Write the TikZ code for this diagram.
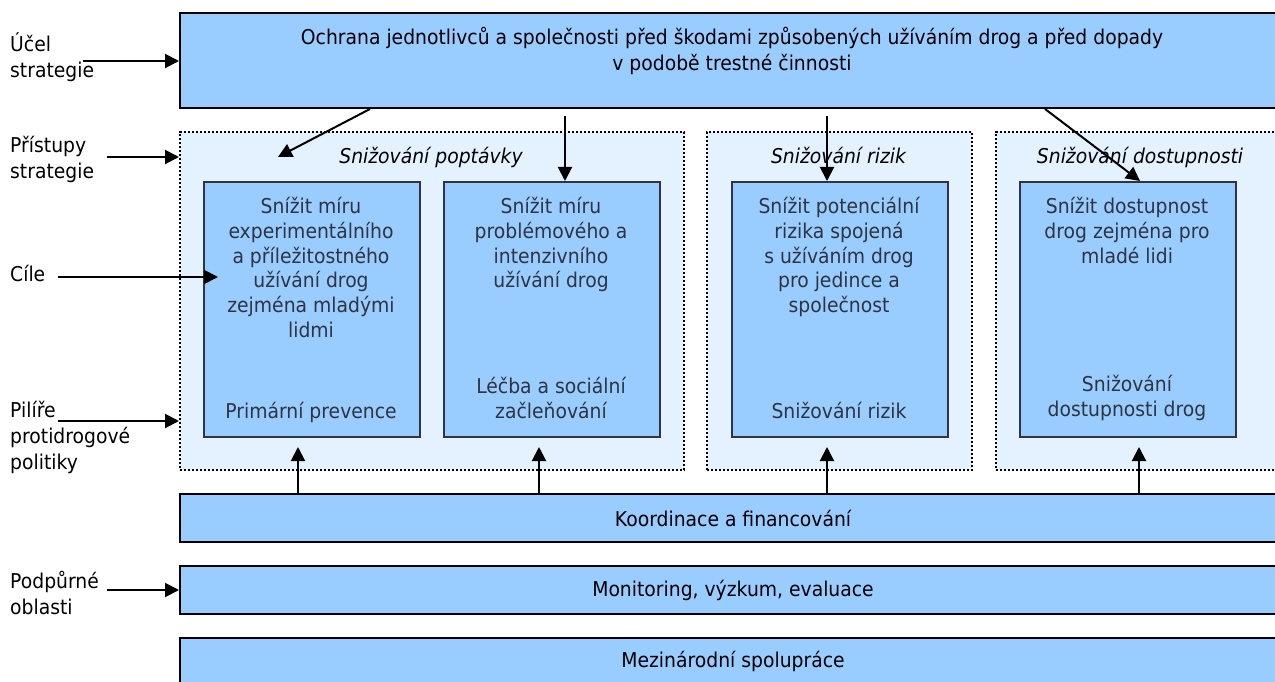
\documentclass[tikz,border=0pt]{standalone}
\usepackage{fontspec}
\setmainfont{DejaVu Sans}[FakeStretch=0.92]
\usetikzlibrary{arrows.meta}
\definecolor{boxblue}{HTML}{99CCFF}
\definecolor{paleblue}{HTML}{E4F1FF}
\definecolor{inktext}{HTML}{2E3440}
\begin{document}
\begin{tikzpicture}[x=1pt,y=-1pt,
  bigbox/.style={draw=black, line width=2pt, fill=boxblue, anchor=north west, inner sep=0pt},
  group/.style={draw=black, line width=2.2pt, dash pattern=on 2.2pt off 1.8pt, fill=paleblue, anchor=north west, inner sep=0pt},
  goal/.style={draw=inktext, line width=1.7pt, fill=boxblue, anchor=north west, inner sep=0pt,
               minimum width=216pt, minimum height=255pt},
  txt/.style={font=\fontsize{20.4}{24.8}\selectfont, align=center, inner sep=0pt},
  goaltxt/.style={txt, text=inktext},
  sidetxt/.style={font=\fontsize{20.4}{26}\selectfont, align=left, inner sep=0pt, anchor=north west},
  arr/.style={-{Triangle[length=14pt,width=14pt]}, line width=2pt},
]
\useasboundingbox (0,0) rectangle (1275,682);
\clip (0,0) rectangle (1275,682);

% strategy purpose
\node[bigbox, minimum width=1106pt, minimum height=95pt] (top) at (179,12) {};
\node[txt, font=\fontsize{20.4}{26}\selectfont, anchor=north] (toptxt) at (732,25.8)
  {\strut Ochrana jednotlivců a společnosti před škodami způsobených užíváním drog a před dopady\\
   v podobě trestné činnosti};

% approach groups
\node[group, minimum width=504pt, minimum height=338pt] (g1) at (179,131) {};
\node[group, minimum width=265pt, minimum height=338pt] (g2) at (706,131) {};
\node[group, minimum width=290pt, minimum height=338pt] (g3) at (995,131) {};
\node[txt, anchor=base, font=\fontsize{20.4}{24.8}\selectfont\itshape] (g1t) at (431,164) {Snižování poptávky};
\node[txt, anchor=base, font=\fontsize{20.4}{24.8}\selectfont\itshape] (g2t) at (838.5,164) {Snižování rizik};
\node[txt, anchor=base, font=\fontsize{20.4}{24.8}\selectfont\itshape] (g3t) at (1140,164) {Snižování dostupnosti};

% goals
\node[goal] (b1) at (203,181) {};
\node[goal] (b2) at (443,181) {};
\node[goal] (b3) at (731,181) {};
\node[goal] (b4) at (1019,181) {};

\node[goaltxt, anchor=north] (b1t) at (311,196) {\strut Snížit míru\\experimentálního\\a příležitostného\\užívání drog\\zejména mladými\\lidmi};
\node[goaltxt, anchor=north] (b2t) at (551,196) {\strut Snížit míru\\problémového a\\intenzivního\\užívání drog};
\node[goaltxt, anchor=north] (b3t) at (839,196) {\strut Snížit potenciální\\rizika spojená\\s užíváním drog\\pro jedince a\\společnost};
\node[goaltxt, anchor=north] (b4t) at (1127,196) {\strut Snížit dostupnost\\drog zejména pro\\mladé lidi};

\node[goaltxt, anchor=south] (p1) at (311,426) {Primární prevence\strut};
\node[goaltxt, anchor=south] (p2) at (551,426) {Léčba a sociální\\začleňování\strut};
\node[goaltxt, anchor=south] (p3) at (839,426) {Snižování rizik\strut};
\node[goaltxt, anchor=south] (p4) at (1127,424) {Snižování\\dostupnosti drog\strut};

% supporting areas
\node[bigbox, minimum width=1106pt, minimum height=48pt] (koord) at (179,493) {};
\node[txt] at (koord.center) {Koordinace a financování};
\node[bigbox, minimum width=1106pt, minimum height=48pt] (mon) at (179,565) {};
\node[txt] at (mon.center) {Monitoring, výzkum, evaluace};
\node[bigbox, minimum width=1106pt, minimum height=48pt] (mez) at (179,637) {};
\node[txt] at ([yshift=-24pt]mez.north) {Mezinárodní spolupráce};

% side labels
\node[sidetxt] (l1) at (10,32.5) {Účel\\strategie};
\node[sidetxt] (l2) at (10,136) {Přístupy\\strategie};
\node[sidetxt] (l3) at (10,265) {Cíle};
\node[sidetxt] (l4) at (10,401) {Pilíře\\protidrogové\\politiky};
\node[sidetxt] (l5) at (10,571) {Podpůrné\\oblasti};

\coordinate (s1) at (83,61);
\coordinate (s2) at (107,157);
\coordinate (s3) at (58,277);
\coordinate (s4) at (58,421);
\coordinate (s5) at (107,590);
\coordinate (c3) at (218,277);

\draw[arr] (s1) -- (s1 -| top.west);
\draw[arr] (s2) -- (s2 -| g1.west);
\draw[arr] (s3) -- (c3);
\draw[arr] (s4) -- (s4 -| g1.west);
\draw[arr] (s5) -- (s5 -| mon.west);

% from purpose to approaches and goals
\coordinate (d1) at (278,157);
\coordinate (u2) at (565,116);
\coordinate (u3) at (827,116);
\draw[arr] (top.south -| 370,0) -- (d1);
\draw[arr] (u2) -- (u2 |- b2.north);
\draw[arr] (u3) -- (u3 |- b3.north);
\draw[arr] (top.south -| 1045,0) -- (b4.north -| 1140,0);

% from coordination to pillars
\foreach \x/\n in {298/1, 539/2, 827/3, 1139/4} {
  \coordinate (e\n) at (\x,447);
  \draw[arr] (koord.north -| e\n) -- (e\n);
}
\end{tikzpicture}
\end{document}
